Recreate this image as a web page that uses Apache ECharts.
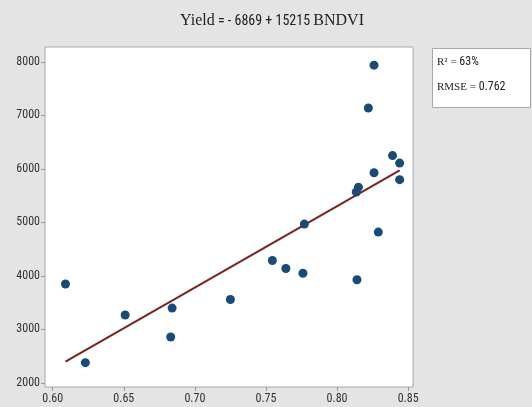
<!DOCTYPE html>
<html>
<head>
<meta charset="utf-8">
<script src="https://cdn.jsdelivr.net/npm/echarts@6/dist/echarts.min.js"></script>
<style>
html,body{margin:0;padding:0;background:#e4e4e4;}
#chart{width:532px;height:407px;}
</style>
</head>
<body>
<div id="chart"></div>
<script>
// Data
var bndvi = [0.609, 0.623, 0.651, 0.684, 0.683, 0.725, 0.7545, 0.764, 0.777, 0.776,
             0.814, 0.829, 0.8135, 0.815, 0.826, 0.844, 0.844, 0.826, 0.822, 0.839];
var yieldVals = [3850, 2380, 3270, 3400, 2860, 3560, 4290, 4140, 4970, 4050,
                 3930, 4820, 5570, 5660, 5930, 6110, 5800, 7940, 7140, 6250];
var fitX = [0.609, 0.844];
var fitY = [2400, 5975];
var xTicks = [0.60, 0.65, 0.70, 0.75, 0.80, 0.85];
var yTicks = [2000, 3000, 4000, 5000, 6000, 7000, 8000];
var titleParts = ['Yield', ' = - 6869 + 15215 ', 'BNDVI'];
var statLabels = ['R\u00B2 = ', 'RMSE = '];
var statValues = ['63%', '0.762'];

var points = bndvi.map(function (x, i) { return [x, yieldVals[i]]; });
var fitLine = fitX.map(function (x, i) { return [x, fitY[i]]; });

var sans = 'Liberation Sans Narrow, Roboto Condensed, Liberation Sans';
var chart = echarts.init(document.getElementById('chart'));
chart.setOption({
  backgroundColor: '#e4e4e4',
  animation: false,
  title: {
    text: '{s|' + titleParts[0] + '}{n|' + titleParts[1] + '}{s|' + titleParts[2] + '}',
    left: 267, top: 8, textAlign: 'center',
    textStyle: {
      fontWeight: 'normal',
      rich: {
        s: { fontFamily: 'Liberation Serif', fontSize: 16, fontWeight: 'normal', color: '#222' },
        n: { fontFamily: sans, fontSize: 14, fontWeight: 'normal', color: '#222' }
      }
    }
  },
  grid: {
    left: 45, right: 119, top: 47, bottom: 20,
    show: true, backgroundColor: '#ffffff', borderColor: '#a8a8a8', borderWidth: 1
  },
  xAxis: {
    type: 'value', min: 0.5946, max: 0.8534,
    axisLine: { show: false },
    splitLine: { show: false },
    axisTick: { show: true, customValues: xTicks, length: 4, lineStyle: { color: '#999' } },
    axisLabel: {
      customValues: xTicks, margin: 6,
      fontFamily: sans, fontSize: 12, color: '#333',
      formatter: function (v) { return v.toFixed(2); }
    }
  },
  yAxis: {
    type: 'value', min: 1925, max: 8279,
    axisLine: { show: false },
    splitLine: { show: false },
    axisTick: { show: true, customValues: yTicks, length: 4, lineStyle: { color: '#999' } },
    axisLabel: {
      customValues: yTicks, margin: 5,
      fontFamily: sans, fontSize: 12, color: '#333',
      formatter: function (v) { return String(Math.round(v)); }
    }
  },
  series: [
    {
      type: 'line', data: fitLine, symbol: 'none', z: 2,
      lineStyle: { color: '#7a2222', width: 2 }
    },
    {
      type: 'scatter', data: points, symbolSize: 9, z: 3,
      itemStyle: { color: '#1a4a76', opacity: 1 }
    }
  ],
  graphic: [
    {
      type: 'rect', shape: { x: 432.5, y: 48.5, width: 98, height: 59 },
      style: { fill: '#ffffff', stroke: '#a8a8a8', lineWidth: 1 }
    },
    {
      type: 'text', x: 437, y: 56,
      style: {
        text: '{a|' + statLabels[0] + '}{b|' + statValues[0] + '}',
        rich: {
          a: { fontFamily: 'Liberation Serif', fontSize: 11, fill: '#222' },
          b: { fontFamily: sans, fontSize: 12, fill: '#222' }
        }
      }
    },
    {
      type: 'text', x: 437, y: 81,
      style: {
        text: '{a|' + statLabels[1] + '}{b|' + statValues[1] + '}',
        rich: {
          a: { fontFamily: 'Liberation Serif', fontSize: 11, fill: '#222' },
          b: { fontFamily: sans, fontSize: 12, fill: '#222' }
        }
      }
    }
  ]
});
</script>
</body>
</html>
